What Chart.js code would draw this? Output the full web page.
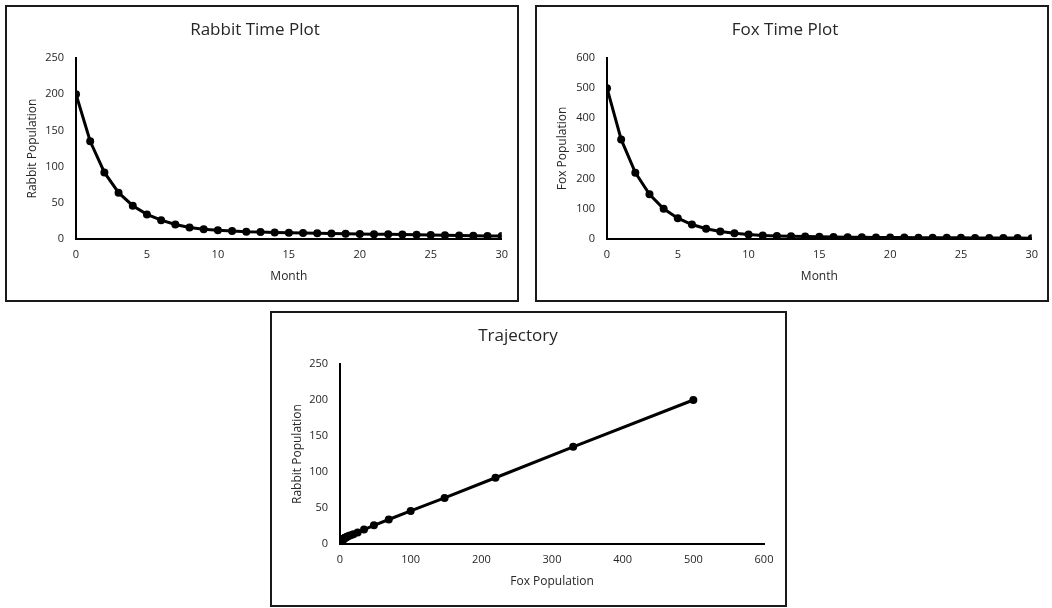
<!DOCTYPE html>
<html>
<head>
<meta charset="utf-8">
<script src="https://cdn.jsdelivr.net/npm/chart.js@4.4.0/dist/chart.umd.min.js"></script>
<style>
    body { margin: 0; background: #fff; width: 1052px; height: 608px; position: relative; overflow: hidden; }
    .box { position: absolute; border: 2px solid #1a1a1a; background: #fff; }
    .box canvas { display: block; }
</style>
</head>
<body>
<div class="box" style="left:5px; top:5px; width:510px; height:293px;"><canvas id="rabbitChart" width="510" height="293"></canvas></div>
<div class="box" style="left:535px; top:5px; width:510px; height:293px;"><canvas id="foxChart" width="510" height="293"></canvas></div>
<div class="box" style="left:270px; top:311px; width:513px; height:292px;"><canvas id="trajChart" width="513" height="292"></canvas></div>
<script>
const months = [0, 1, 2, 3, 4, 5, 6, 7, 8, 9, 10, 11, 12, 13, 14, 15, 16, 17, 18, 19, 20, 21, 22, 23, 24, 25, 26, 27, 28, 29, 30];
const rabbitPop = [200, 135, 92, 64, 46, 34, 26, 20, 16, 13.5, 12, 11, 10, 9.5, 9, 8.6, 8.2, 7.8, 7.5, 7.2, 7, 6.7, 6.4, 6.1, 5.8, 5.5, 5.2, 4.9, 4.6, 4.3, 4];
const foxPop = [500, 330, 220, 148, 100, 69, 48, 34, 25, 19, 15, 12, 10, 9, 8, 7.2, 6.6, 6.1, 5.6, 5.2, 4.9, 4.6, 4.4, 4.2, 4, 3.8, 3.6, 3.4, 3.2, 3, 2.8];
const rabbitTicks = [0, 50, 100, 150, 200, 250];
const foxTicks = [0, 100, 200, 300, 400, 500, 600];
const monthTicks = [0, 5, 10, 15, 20, 25, 30];

const textColor = '#262626';
const fontFamily = "'Open Sans', 'Liberation Sans', sans-serif";

function lineDataset(points) {
    return {
        data: points,
        showLine: true,
        borderColor: '#000',
        backgroundColor: '#000',
        borderWidth: 3,
        pointRadius: 4,
        pointBorderWidth: 0,
        tension: 0
    };
}

function makeOptions(titleText, xTitle, yTitle, xMax, xStep, yMax, yStep, yWidth, rightPad) {
    return {
        responsive: false,
        animation: false,
        devicePixelRatio: 1,
        layout: { padding: { left: 0, right: rightPad, top: 0, bottom: 0 } },
        plugins: {
            legend: { display: false },
            tooltip: { enabled: false },
            title: {
                display: true,
                text: titleText,
                color: textColor,
                font: { family: fontFamily, size: 17, weight: 'normal' },
                padding: { top: 13, bottom: 17.6 }
            }
        },
        scales: {
            x: {
                type: 'linear',
                min: 0,
                max: xMax,
                grid: { display: false, drawTicks: false },
                border: { display: true, color: '#000', width: 2 },
                ticks: { stepSize: xStep, padding: 9, color: textColor, font: { family: fontFamily, size: 11 } },
                title: { display: true, text: xTitle, color: textColor, font: { family: fontFamily, size: 12 }, padding: { top: 0, bottom: 16 } },
                afterFit: (scale) => { scale.height = 61; }
            },
            y: {
                type: 'linear',
                min: 0,
                max: yMax,
                grid: { display: false, drawTicks: false },
                border: { display: true, color: '#000', width: 2 },
                ticks: { stepSize: yStep, padding: 12, color: textColor, font: { family: fontFamily, size: 11 } },
                title: { display: true, text: yTitle, color: textColor, font: { family: fontFamily, size: 12 }, padding: { top: 18, bottom: 0 } },
                afterFit: (scale) => { scale.width = yWidth; }
            }
        }
    };
}

new Chart(document.getElementById('rabbitChart'), {
    type: 'scatter',
    data: { datasets: [lineDataset(months.map((m, i) => ({ x: m, y: rabbitPop[i] })))] },
    options: makeOptions('Rabbit Time Plot', 'Month', 'Rabbit Population', monthTicks[monthTicks.length - 1], 5, rabbitTicks[rabbitTicks.length - 1], 50, 69, 14)
});

new Chart(document.getElementById('foxChart'), {
    type: 'scatter',
    data: { datasets: [lineDataset(months.map((m, i) => ({ x: m, y: foxPop[i] })))] },
    options: makeOptions('Fox Time Plot', 'Month', 'Fox Population', monthTicks[monthTicks.length - 1], 5, foxTicks[foxTicks.length - 1], 100, 70, 14)
});

new Chart(document.getElementById('trajChart'), {
    type: 'scatter',
    data: { datasets: [lineDataset(foxPop.map((f, i) => ({ x: f, y: rabbitPop[i] })))] },
    options: makeOptions('Trajectory', 'Fox Population', 'Rabbit Population', foxTicks[foxTicks.length - 1], 100, rabbitTicks[rabbitTicks.length - 1], 50, 68, 21)
});
</script>
</body>
</html>
